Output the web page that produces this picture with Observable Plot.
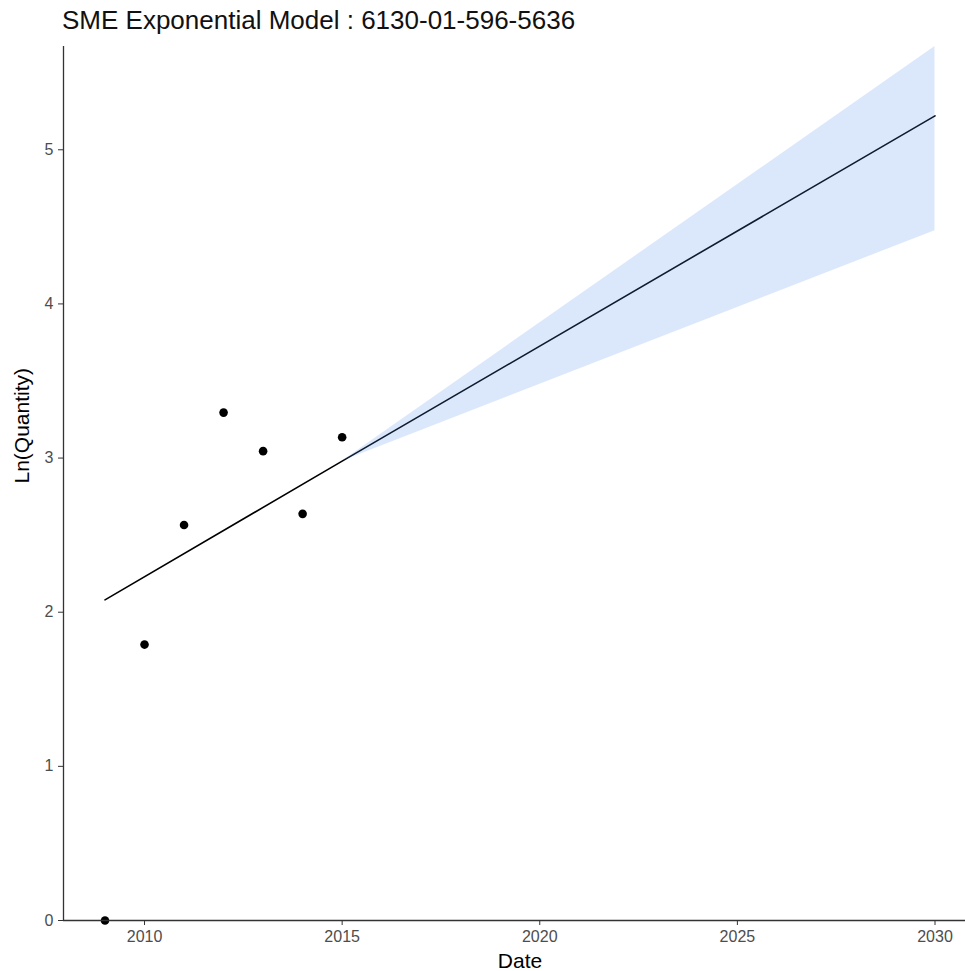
<!DOCTYPE html>
<html>
<head>
<meta charset="utf-8">
<script src="https://cdn.jsdelivr.net/npm/d3@7"></script>
<script src="https://cdn.jsdelivr.net/npm/@observablehq/plot@0.6"></script>
<style>
  html, body { margin: 0; padding: 0; background: #fff; overflow: hidden; }
  #wrap { width: 965px; height: 971px; overflow: hidden; position: relative; font-family: "Liberation Sans", Arial, sans-serif; }
  #title { height: 40px; padding-left: 62px; font-size: 26px; line-height: 40px; color: #111; white-space: nowrap; }
  #chart svg { max-width: none !important; display: block; }
</style>
</head>
<body>
<div id="wrap">
  <div id="title">SME Exponential Model : 6130-01-596-5636</div>
  <div id="chart"></div>
</div>
<script>
// Observed data (log of quantity)
const years = [2009, 2010, 2011, 2012, 2013, 2014, 2015];
const lnQty = [0, 1.79, 2.566, 3.295, 3.045, 2.638, 3.135];

// Fitted exponential model (linear in log space)
const fitYears = [2009, 2015, 2030];
const fitValues = [2.08, 2.98, 5.22];

// Forecast interval
const bandYears = [2015, 2030];
const bandUpper = [2.98, 5.67];
const bandLower = [2.98, 4.475];

// Axis ticks
const xTicks = [2010, 2015, 2020, 2025, 2030];
const yTicks = [0, 1, 2, 3, 4, 5];

const points = years.map((y, i) => ({year: y, v: lnQty[i]}));
const fit = fitYears.map((y, i) => ({year: y, v: fitValues[i]}));
const band = bandYears.map((y, i) => ({year: y, lo: bandLower[i], hi: bandUpper[i]}));

const xMin = 2007.95, xMax = 2031.05;

const chart = Plot.plot({
  width: 977,
  height: 931,
  marginLeft: 63,
  marginRight: 1,
  marginTop: 6,
  marginBottom: 51,
  style: {fontFamily: "Liberation Sans, Arial, sans-serif", background: "#fff", maxWidth: "none", fontSize: "16px"},
  x: {domain: [xMin, xMax], ticks: xTicks, tickFormat: "d"},
  y: {domain: [0, 5.67], ticks: yTicks, tickFormat: "d"},
  marks: [
    Plot.line(fit, {x: "year", y: "v", stroke: "#000", strokeWidth: 1.6}),
    Plot.areaY(band, {x: "year", y1: "lo", y2: "hi", fill: "#4d8af0", fillOpacity: 0.2}),
    Plot.dot(points, {x: "year", y: "v", r: 4.3, fill: "#000", stroke: "none"}),
    Plot.ruleY([0], {stroke: "#333", strokeWidth: 1.3}),
    Plot.ruleX([xMin], {stroke: "#333", strokeWidth: 1.3}),
    Plot.axisX({ticks: xTicks, tickFormat: "d", tickSize: 5, tickPadding: 5, fontSize: 16, color: "#4d4d4d", label: null, stroke: "#333"}),
    Plot.axisY({ticks: yTicks, tickFormat: "d", tickSize: 5, tickPadding: 5, fontSize: 16, color: "#4d4d4d", label: null, stroke: "#333"}),
    Plot.text(["Date"], {frameAnchor: "bottom", dy: 47, fontSize: 21, fill: "#000"}),
    Plot.text(["Ln(Quantity)"], {frameAnchor: "left", dx: -41, rotate: -90, fontSize: 21, fill: "#000"})
  ]
});
document.getElementById("chart").appendChild(chart);
</script>
</body>
</html>
